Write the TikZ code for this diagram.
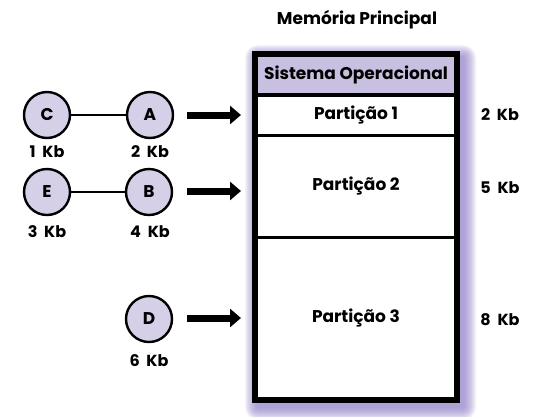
\documentclass[tikz,border=0pt]{standalone}
\usepackage{fontspec}
\setmainfont{Poppins}
\usetikzlibrary{arrows.meta}
\definecolor{lav}{HTML}{D6CFE8}
\definecolor{sofill}{HTML}{C9BFE1}
\definecolor{glow}{HTML}{8E7BC6}
\newcommand\widespace{\spaceskip=0.42em\relax}
\begin{document}
\begin{tikzpicture}[x=1pt,y=-1pt,
  proc/.style={circle,draw,line width=2.4pt,fill=lav,minimum size=46pt,inner sep=0pt,font=\fontsize{17}{18}\selectfont\bfseries},
  lbl/.style={font=\fontsize{16}{18}\selectfont\bfseries\widespace},
  part/.style={font=\fontsize{17}{19}\selectfont\bfseries},
  bigarrow/.style={line width=7pt,-{Triangle[length=11pt,width=18pt]}},
  link/.style={line width=1.7pt},
  glowlayer/.style={fill=glow,fill opacity=0.09}]
\useasboundingbox (0,0) rectangle (559,416);
% purple glow behind the memory box
\foreach \r in {1,...,13}{
  \fill[glowlayer,rounded corners=\r pt] (258-\r,58-\r) rectangle (463+\r,407+\r);
}
% memory box
\node[draw=none,minimum width=201.5pt,minimum height=346pt,inner sep=0pt,anchor=north west,fill=white]
  (mem) at (255,54) {};
\fill[sofill] (255,54) rectangle (456.5,95);
\draw[line width=3.5pt] (255,95) -- (456.5,95);
\draw[line width=3pt] (255,135) -- (456.5,135);
\draw[line width=2.5pt] (255,237.5) -- (456.5,237.5);
\draw[line width=6pt] (mem.north west) rectangle (mem.south east);
\node[part] (title) at (357,20) {Memória Principal};
\node[part] (so) at (356,75) {Sistema Operacional};
\node[part] (p1) at (356,115) {Partição 1};
\node[part] (p2) at (356,186) {Partição 2};
\node[part] (p3) at (356,318) {Partição 3};
\node[lbl] (s1) at (500,115) {2 Kb};
\node[lbl] (s2) at (500,188) {5 Kb};
\node[lbl] (s3) at (500,320) {8 Kb};
% processes
\node[proc] (C) at (47,115) {C};
\node[proc] (A) at (150,115) {A};
\node[proc] (E) at (47,192) {E};
\node[proc] (B) at (149,192) {B};
\node[proc] (D) at (149,319) {D};
\draw[link] (C) -- (A);
\draw[link] (E) -- (B);
\node[lbl] (kc) at (47,152) {1 Kb};
\node[lbl] (ka) at (150,152) {2 Kb};
\node[lbl] (ke) at (47,232) {3 Kb};
\node[lbl] (kb) at (150,232) {4 Kb};
\node[lbl] (kd) at (149,361) {6 Kb};
% arrows
\coordinate (a1s) at (187,115); \coordinate (a1e) at (241,115);
\coordinate (a2s) at (187,191); \coordinate (a2e) at (241,191);
\coordinate (a3s) at (187,318); \coordinate (a3e) at (241,318);
\draw[bigarrow] (a1s) -- (a1e);
\draw[bigarrow] (a2s) -- (a2e);
\draw[bigarrow] (a3s) -- (a3e);
\end{tikzpicture}
\end{document}
